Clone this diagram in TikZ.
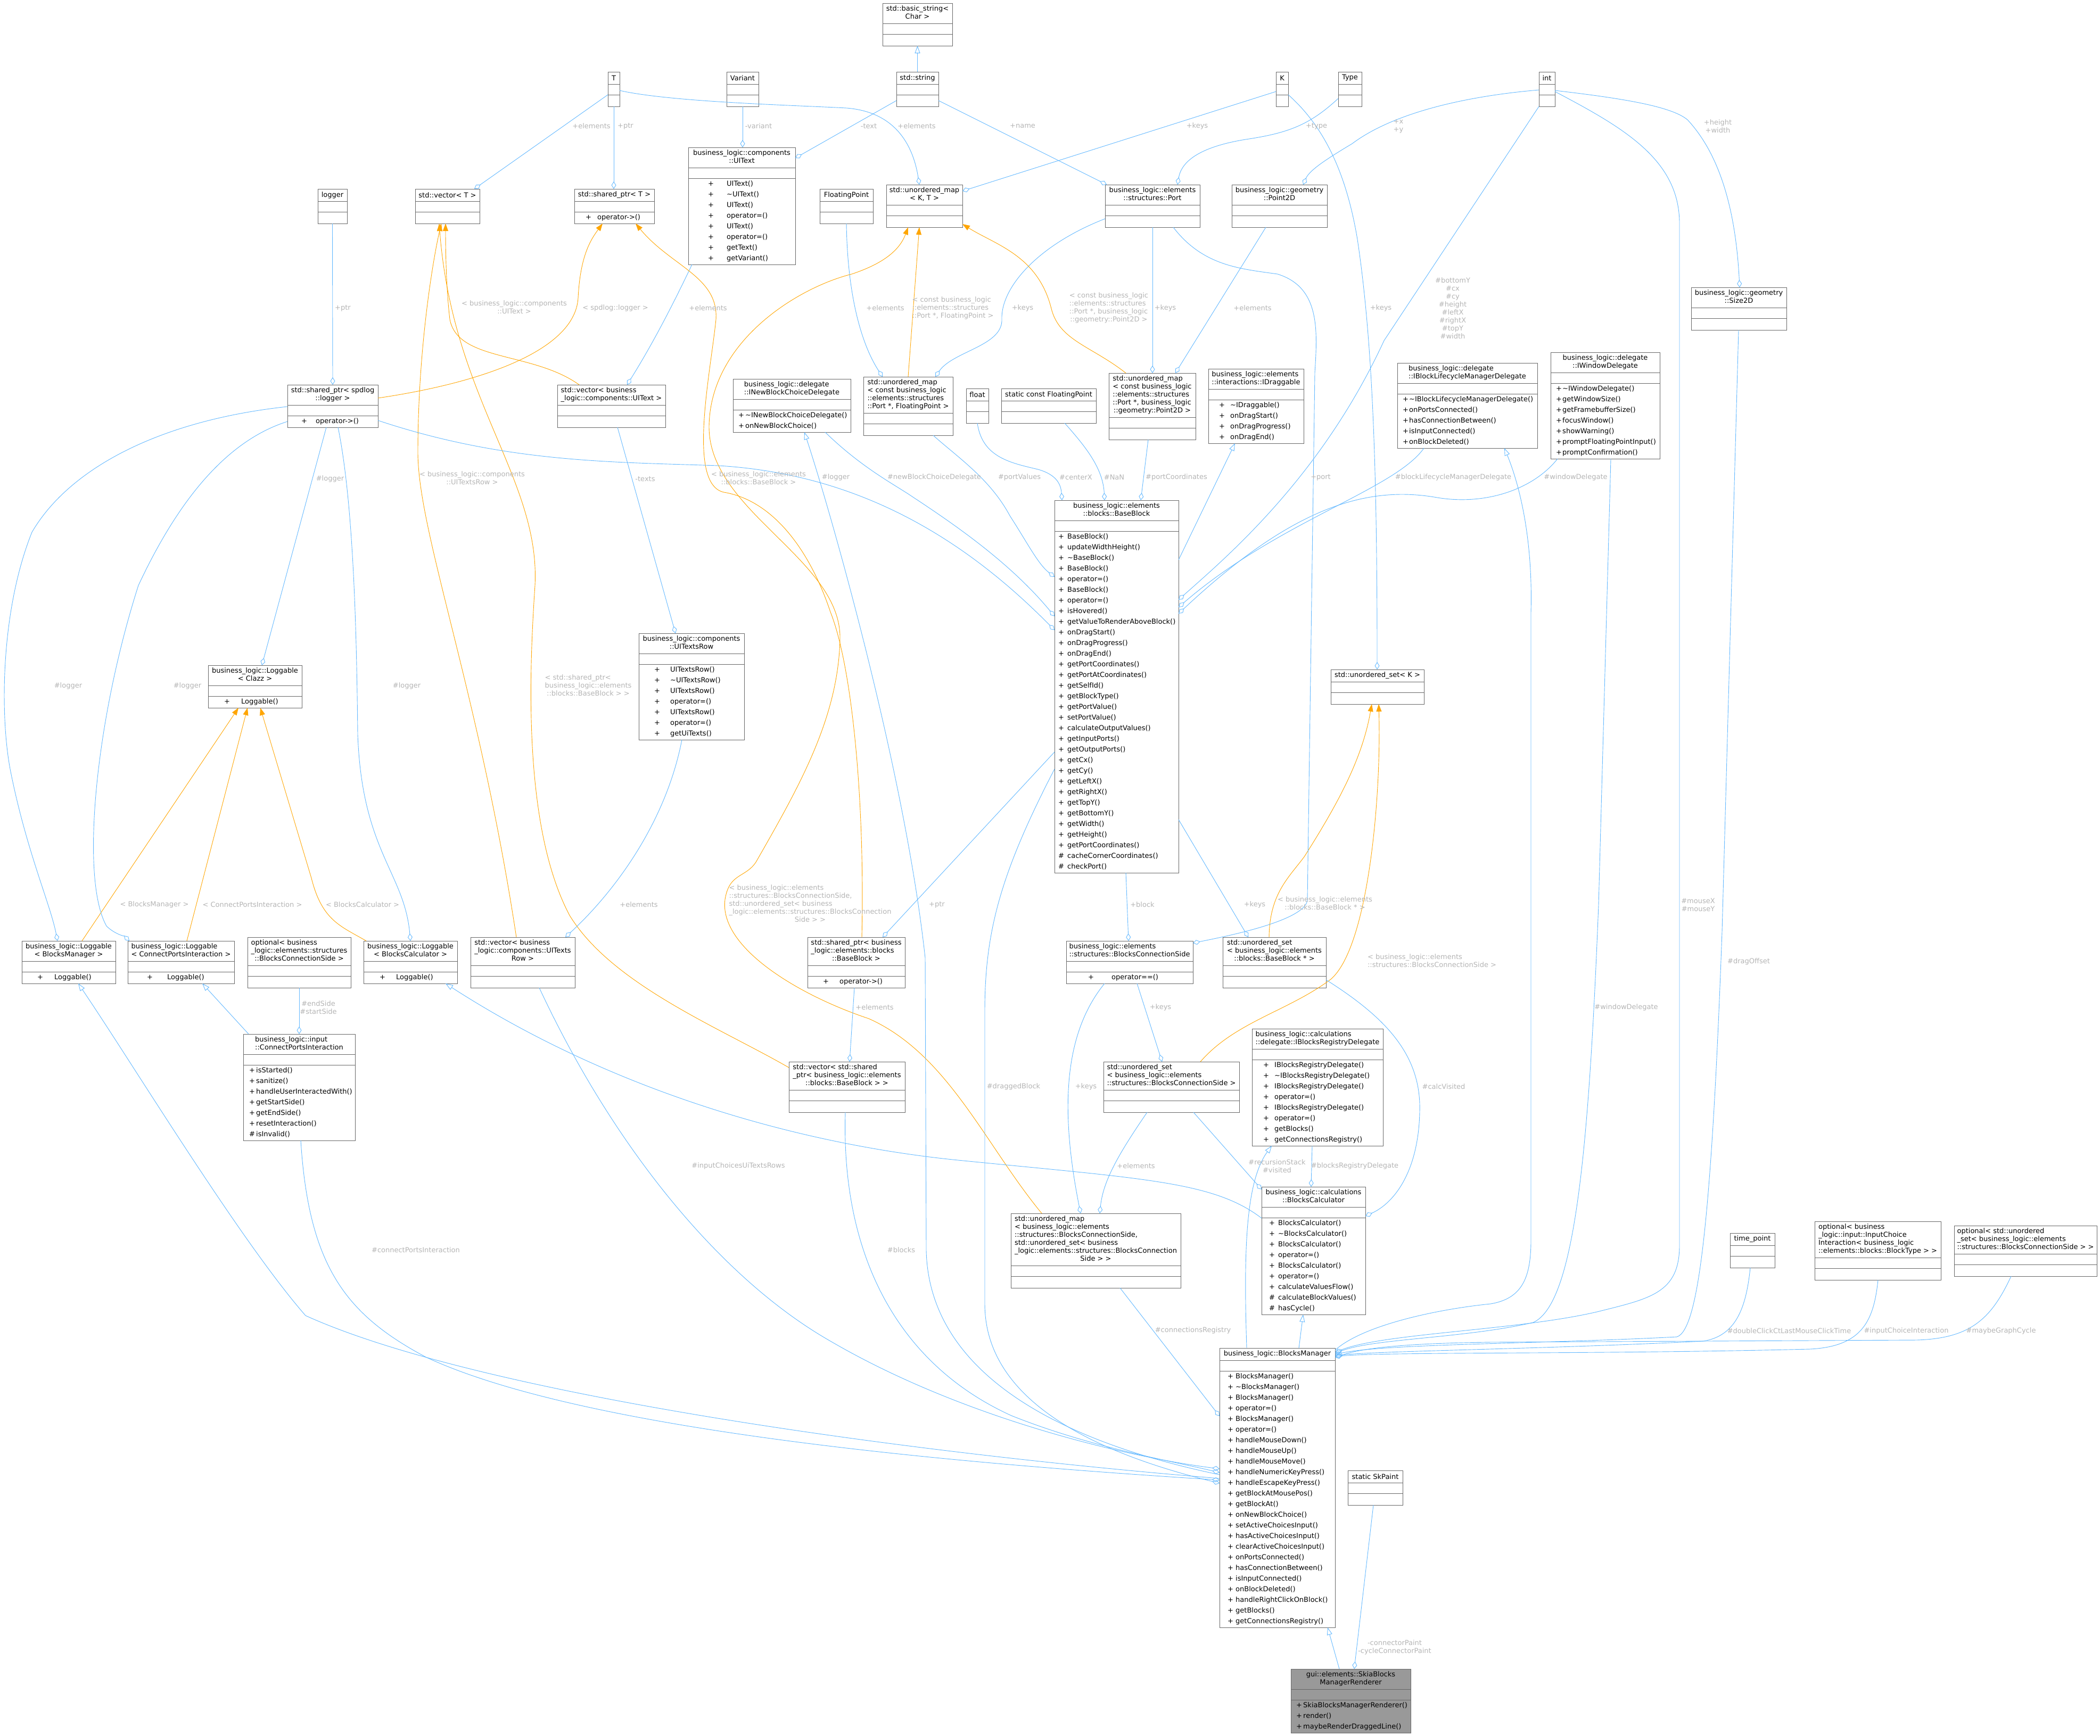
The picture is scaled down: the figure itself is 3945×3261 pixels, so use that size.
\documentclass[tikz,border=0pt]{standalone}
\usepackage{fontspec}
\setmainfont{DejaVu Sans}
\usepackage{tikz}
\usetikzlibrary{calc,arrows.meta}
\usepackage{xcolor}
\definecolor{edge_blue}{HTML}{63B8FF}
\definecolor{edge_orange}{HTML}{FFA500}
\definecolor{label_grey}{HTML}{B4B4B4}
\definecolor{box_grey}{HTML}{666666}
\definecolor{root_grey}{HTML}{999999}

\newcommand\headfont{\fontsize{13}{15}\selectfont}
\newcommand\hd[2]{\begin{tabular}{@{}l@{}}#1\\\multicolumn{1}{@{}c@{}}{#2}\end{tabular}}

\tikzset{
	cls/.style={draw=box_grey, line width=1pt, inner sep=0pt, outer sep=0pt, anchor=north west, fill=white},
	cellline/.style={draw=box_grey, line width=1pt},
	clshead/.style={inner sep=0pt, font=\headfont},
	clsrow/.style={inner sep=0pt, anchor=base west, font=\headfont},
	lbl/.style={text=label_grey, font=\headfont, align=center, inner sep=0pt},
	lblt/.style={text=label_grey, font=\headfont, inner sep=0pt},
	useedge/.style={draw=edge_blue, line width=0.9pt, -{Diamond[open, length=14pt, width=9pt]}},
	inhedge/.style={draw=edge_blue, line width=0.9pt, -{Triangle[open, length=14pt, width=10pt]}},
	tmpledge/.style={draw=edge_orange, line width=0.9pt, -{Triangle[length=14pt, width=10pt]}}
}

% name, x, y, width, header lines, header
\newcommand\emptybox[6]{%
	\pgfmathsetmacro\hh{15*#5+8}%
	\node[cls, minimum width=#4pt, minimum height={\hh pt+42pt}] (#1) at (#2,#3) {};
	\draw[cellline] (#2,#3+\hh) -- ++(#4,0) (#2,#3+\hh+20) -- ++(#4,0);
	\node[clshead] (#1h) at (#2+#4/2,#3+\hh/2) {#6};
}

% name, x, y, width, header lines, header, sign offset, name offset, rows
\newcommand\classbox[9]{%
	\pgfmathsetmacro\hh{15*#5+8}%
	\foreach \s/\m [count=\i] in {#9} {\xdef\nrows{\i}}%
	\pgfmathsetmacro\htot{\hh+22+20*\nrows}%
	\node[cls, minimum width=#4pt, minimum height=\htot pt] (#1) at (#2,#3) {};
	\draw[cellline] (#2,#3+\hh) -- ++(#4,0) (#2,#3+\hh+20) -- ++(#4,0);
	\node[clshead] (#1h) at (#2+#4/2,#3+\hh/2) {#6};
	\foreach \s/\m [count=\i] in {#9} {
		\node[clsrow] (#1s\i) at (#2+#7,#3+\hh+34.5+20*\i-20) {\s};
		\node[clsrow] (#1n\i) at (#2+#8,#3+\hh+34.5+20*\i-20) {\m};
	}%
}

\begin{document}
\begin{tikzpicture}[x=1pt,y=-1pt]
	\useasboundingbox (0,0) rectangle (3945,3261);

	\emptybox{T}{1142}{135}{22}{1}{T}
	\emptybox{logger}{597}{355}{55}{1}{logger}
	\emptybox{vecT}{780}{355}{121}{1}{std::vector< T >}
	\classbox{sptrT}{1079}{355}{150}{1}{std::shared\_ptr< T >}{21}{43}{+/operator->()}
	\emptybox{bstring}{1658}{6}{131}{2}{\hd{std::basic\_string<}{Char >}}
	\emptybox{variant}{1365}{135}{60}{1}{Variant}
	\emptybox{stdstring}{1684}{135}{79}{1}{std::string}
	\emptybox{K}{2397}{135}{23}{1}{K}
	\emptybox{Type}{2514}{135}{44}{1}{Type}
	\emptybox{int}{2891}{135}{30}{1}{int}
	\classbox{UIText}{1293}{277}{201}{2}{\hd{business\_logic::components}{::UIText}}{37}{72}{+/UIText(), +/\textasciitilde UIText(), +/UIText(), +/operator=(), +/UIText(), +/operator=(), +/getText(), +/getVariant()}
	\emptybox{mapKT}{1665}{347}{143}{2}{\hd{std::unordered\_map}{< K, T >}}
	\emptybox{Port}{2076}{347}{178}{2}{\hd{business\_logic::elements}{::structures::Port}}
	\emptybox{Point2D}{2314}{347}{179}{2}{\hd{business\_logic::geometry}{::Point2D}}
	\emptybox{FloatingPoint}{1540}{355}{100}{1}{FloatingPoint}
	\emptybox{Size2D}{3177}{540}{179}{2}{\hd{business\_logic::geometry}{::Size2D}}
	\classbox{sptrLog}{540}{723}{170}{2}{\hd{std::shared\_ptr< spdlog}{::logger >}}{26}{53}{+/operator->()}
	\emptybox{vecUIText}{1047}{723}{203}{2}{\hd{std::vector< business}{\_logic::components::UIText >}}
	\classbox{INewBCD}{1377}{712}{221}{2}{\hd{business\_logic::delegate}{::INewBlockChoiceDelegate}}{10}{23}{+/\textasciitilde INewBlockChoiceDelegate(), +/onNewBlockChoice()}
	\emptybox{mapFP}{1622}{708}{168}{4}{\hd{std::unordered\_map\\< const business\_logic\\::elements::structures}{::Port *, FloatingPoint >}}
	\emptybox{float}{1815}{730}{42}{1}{float}
	\emptybox{scFP}{1881}{730}{178}{1}{static const FloatingPoint}
	\emptybox{mapP2D}{2083}{701}{163}{5}{\hd{std::unordered\_map\\< const business\_logic\\::elements::structures\\::Port *, business\_logic}{::geometry::Point2D >}}
	\classbox{IDraggable}{2270}{693}{179}{2}{\hd{business\_logic::elements}{::interactions::IDraggable}}{20}{41}{+/\textasciitilde IDraggable(), +/onDragStart(), +/onDragProgress(), +/onDragEnd()}
	\classbox{IBLMD}{2625}{682}{263}{2}{\hd{business\_logic::delegate}{::IBlockLifecycleManagerDelegate}}{10}{22}{+/\textasciitilde IBlockLifecycleManagerDelegate(), +/onPortsConnected(), +/hasConnectionBetween(), +/isInputConnected(), +/onBlockDeleted()}
	\classbox{IWD}{2913}{662}{205}{2}{\hd{business\_logic::delegate}{::IWindowDelegate}}{10}{22}{+/\textasciitilde IWindowDelegate(), +/getWindowSize(), +/getFramebufferSize(), +/focusWindow(), +/showWarning(), +/promptFloatingPointInput(), +/promptConfirmation()}
	\classbox{BaseBlock}{1981}{940}{233}{2}{\hd{business\_logic::elements}{::blocks::BaseBlock}}{7}{24}{+/BaseBlock(), +/updateWidthHeight(), +/\textasciitilde BaseBlock(), +/BaseBlock(), +/operator=(), +/BaseBlock(), +/operator=(), +/isHovered(), +/getValueToRenderAboveBlock(), +/onDragStart(), +/onDragProgress(), +/onDragEnd(), +/getPortCoordinates(), +/getPortAtCoordinates(), +/getSelfId(), +/getBlockType(), +/getPortValue(), +/setPortValue(), +/calculateOutputValues(), +/getInputPorts(), +/getOutputPorts(), +/getCx(), +/getCy(), +/getLeftX(), +/getRightX(), +/getTopY(), +/getBottomY(), +/getWidth(), +/getHeight(), +/getPortCoordinates(), \#/cacheCornerCoordinates(), \#/checkPort()}
	\classbox{LogClazz}{391}{1250}{176}{2}{\hd{business\_logic::Loggable}{< Clazz >}}{30}{62}{+/Loggable()}
	\emptybox{usetK}{2500}{1258}{175}{1}{std::unordered\_set< K >}
	\classbox{UITextsRow}{1200}{1190}{198}{2}{\hd{business\_logic::components}{::UITextsRow}}{29}{59}{+/UITextsRow(), +/\textasciitilde UITextsRow(), +/UITextsRow(), +/operator=(), +/UITextsRow(), +/operator=(), +/getUiTexts()}
	\classbox{LogBM}{41}{1768}{176}{2}{\hd{business\_logic::Loggable}{< BlocksManager >}}{29}{61}{+/Loggable()}
	\classbox{LogCPI}{240}{1768}{200}{2}{\hd{business\_logic::Loggable}{< ConnectPortsInteraction >}}{36}{74}{+/Loggable()}
	\emptybox{optBCS}{465}{1761}{194}{3}{\hd{optional< business\\\_logic::elements::structures}{::BlocksConnectionSide >}}
	\classbox{LogBC}{683}{1768}{176}{2}{\hd{business\_logic::Loggable}{< BlocksCalculator >}}{30}{61}{+/Loggable()}
	\emptybox{vecRow}{884}{1761}{196}{3}{\hd{std::vector< business\\\_logic::components::UITexts}{Row >}}
	\classbox{CPI}{457}{1943}{210}{2}{\hd{business\_logic::input}{::ConnectPortsInteraction}}{11}{24}{+/isStarted(), +/sanitize(), +/handleUserInteractedWith(), +/getStartSide(), +/getEndSide(), +/resetInteraction(), \#/isInvalid()}
	\classbox{sptrBB}{1517}{1761}{183}{3}{\hd{std::shared\_ptr< business\\\_logic::elements::blocks}{::BaseBlock >}}{29}{60}{+/operator->()}
	\classbox{BCS}{2003}{1768}{238}{2}{\hd{business\_logic::elements}{::structures::BlocksConnectionSide}}{41}{85}{+/operator==()}
	\emptybox{usetBB}{2297}{1761}{194}{3}{\hd{std::unordered\_set\\< business\_logic::elements}{::blocks::BaseBlock * >}}
	\emptybox{vecSBB}{1482}{1995}{218}{3}{\hd{std::vector< std::shared\\\_ptr< business\_logic::elements}{::blocks::BaseBlock > >}}
	\emptybox{usetBCS}{2073}{1995}{255}{3}{\hd{std::unordered\_set\\< business\_logic::elements}{::structures::BlocksConnectionSide >}}
	\classbox{IBRD}{2352}{1933}{246}{2}{\hd{business\_logic::calculations}{::delegate::IBlocksRegistryDelegate}}{21}{42}{+/IBlocksRegistryDelegate(), +/\textasciitilde IBlocksRegistryDelegate(), +/IBlocksRegistryDelegate(), +/operator=(), +/IBlocksRegistryDelegate(), +/operator=(), +/getBlocks(), +/getConnectionsRegistry()}
	\emptybox{mapBCS}{1899}{2280}{319}{6}{\hd{std::unordered\_map\\< business\_logic::elements\\::structures::BlocksConnectionSide,\\ std::unordered\_set< business\\\_logic::elements::structures::BlocksConnection}{Side > >}}
	\classbox{BC}{2370}{2230}{195}{2}{\hd{business\_logic::calculations}{::BlocksCalculator}}{14}{31}{+/BlocksCalculator(), +/\textasciitilde BlocksCalculator(), +/BlocksCalculator(), +/operator=(), +/BlocksCalculator(), +/operator=(), +/calculateValuesFlow(), \#/calculateBlockValues(), \#/hasCycle()}
	\emptybox{timept}{3250}{2317}{84}{1}{time\_point}
	\emptybox{optICI}{3409}{2295}{237}{4}{\hd{optional< business\\\_logic::input::InputChoice\\Interaction< business\_logic}{::elements::blocks::BlockType > >}}
	\emptybox{optSet}{3671}{2303}{268}{3}{\hd{optional< std::unordered\\\_set< business\_logic::elements}{::structures::BlocksConnectionSide > >}}
	\classbox{BM}{2291}{2533}{217}{1}{business\_logic::BlocksManager}{15}{30}{+/BlocksManager(), +/\textasciitilde BlocksManager(), +/BlocksManager(), +/operator=(), +/BlocksManager(), +/operator=(), +/handleMouseDown(), +/handleMouseUp(), +/handleMouseMove(), +/handleNumericKeyPress(), +/handleEscapeKeyPress(), +/getBlockAtMousePos(), +/getBlockAt(), +/onNewBlockChoice(), +/setActiveChoicesInput(), +/hasActiveChoicesInput(), +/clearActiveChoicesInput(), +/onPortsConnected(), +/hasConnectionBetween(), +/isInputConnected(), +/onBlockDeleted(), +/handleRightClickOnBlock(), +/getBlocks(), +/getConnectionsRegistry()}
	\emptybox{SkPaint}{2532}{2763}{103}{1}{static SkPaint}
	\begin{scope}[cls/.append style={fill=root_grey}]
		\classbox{Skia}{2425}{3136}{225}{2}{\hd{gui::elements::SkiaBlocks}{ManagerRenderer}}{10}{23}{+/SkiaBlocksManagerRenderer(), +/render(), +/maybeRenderDraggedLine()}
	\end{scope}

	% top row
	\draw[useedge] ($(T.north west)+(0,43)$) -- ($(vecT.north west)+(111,0)$);
	\draw[useedge] (T.south) -- ($(sptrT.north west)+(74,0)$);
	\draw[useedge] ($(T.north east)+(0,35)$) .. controls (1260,192) and (1500,198) .. (1590,203) .. controls (1680,210) and (1715,270) .. ($(mapKT.north west)+(62,0)$);
	\draw[inhedge] (stdstring.north) -- (bstring.south);
	\draw[useedge] (variant.south) -- ($(UIText.north west)+(102,0)$);
	\draw[useedge] ($(stdstring.north west)+(0,54)$) -- ($(UIText.north east)+(0,20)$);
	\draw[useedge] ($(stdstring.north east)+(0,54)$) -- ($(Port.north west)+(3,0)$);
	\draw[useedge] ($(K.north west)+(0,37)$) -- ($(mapKT.north east)+(0,12)$);
	\draw[useedge] ($(Type.north west)+(0,50)$) .. controls (2460,235) and (2420,250) .. (2340,262) .. controls (2260,275) and (2220,300) .. ($(Port.north west)+(136,0)$);
	\draw[useedge] ($(int.north west)+(0,34)$) .. controls (2760,180) and (2620,210) .. (2540,270) .. controls (2490,300) and (2460,320) .. ($(Point2D.north west)+(134,0)$);
	\draw[useedge] ($(int.north east)+(0,35)$) .. controls (3050,185) and (3140,200) .. (3170,225) .. controls (3240,300) and (3262,420) .. ($(Size2D.north west)+(91,0)$);
	\draw[useedge] ($(K.north east)+(0,43)$) .. controls (2490,240) and (2530,330) .. (2550,450) .. controls (2580,650) and (2587,900) .. ($(usetK.north west)+(87,0)$);
	\draw[useedge] (logger.south) -- ($(sptrLog.north west)+(85,0)$);
	\draw[useedge] ($(UIText.south west)+(7,0)$) .. controls (1270,560) and (1230,640) .. ($(vecUIText.north west)+(131,0)$);
	\draw[useedge] (FloatingPoint.south) .. controls (1592,560) and (1620,650) .. ($(mapFP.north west)+(36,0)$);
	\draw[useedge] ($(Port.north west)+(0,64)$) .. controls (1950,460) and (1880,540) .. (1882,600) .. controls (1884,650) and (1790,660) .. ($(mapFP.north west)+(135,0)$);
	\draw[useedge] (Port.south) -- ($(mapP2D.north west)+(82,0)$);
	\draw[useedge] ($(Point2D.south west)+(64,0)$) -- ($(mapP2D.north west)+(125,0)$);

	% templates
	\draw[tmpledge] ($(mapFP.north west)+(84,0)$) -- ($(mapKT.south west)+(62,0)$);
	\draw[tmpledge] ($(mapP2D.north west)+(32,0)$) .. controls (2050,650) and (1990,640) .. (1975,580) .. controls (1950,480) and (1870,460) .. ($(mapKT.south east)+(0,-6)$);
	\draw[tmpledge] ($(mapBCS.north west)+(58,0)$) .. controls (1850,2150) and (1780,1980) .. (1632,1914) .. controls (1500,1870) and (1350,1780) .. (1362,1690) .. controls (1370,1640) and (1400,1650) .. (1420,1620) .. controls (1500,1480) and (1575,1350) .. (1578,1200) .. controls (1580,1050) and (1330,960) .. (1332,800) .. controls (1335,640) and (1500,540) .. (1600,515) .. controls (1660,495) and (1690,470) .. ($(mapKT.south west)+(41,0)$);
	\draw[tmpledge] ($(sptrBB.north west)+(102,0)$) .. controls (1625,1500) and (1600,1250) .. (1560,1150) .. controls (1520,1030) and (1450,940) .. (1360,925) .. controls (1290,910) and (1335,700) .. (1345,600) .. controls (1350,520) and (1260,500) .. ($(sptrT.south west)+(115,0)$);
	\draw[tmpledge] ($(vecRow.north west)+(86,0)$) .. controls (900,1300) and (785,1000) .. (785,850) .. controls (785,650) and (815,480) .. ($(vecT.south west)+(49,0)$);
	\draw[tmpledge] ($(vecSBB.north west)+(0,11)$) .. controls (1350,1930) and (1150,1850) .. (1070,1720) .. controls (980,1550) and (995,1250) .. (1005,1100) .. controls (1015,900) and (850,750) .. ($(vecT.south west)+(45,0)$);
	\draw[tmpledge] ($(vecUIText.north west)+(41,0)$) .. controls (1000,660) and (860,680) .. (845,600) .. controls (838,540) and (837,470) .. ($(vecT.south west)+(57,0)$);
	\draw[tmpledge] ($(sptrLog.north east)+(0,25)$) .. controls (900,720) and (1080,660) .. (1086,560) .. controls (1090,480) and (1110,450) .. ($(sptrT.south west)+(53,0)$);
	\draw[tmpledge] ($(LogBM.north west)+(113,0)$) -- ($(LogClazz.south west)+(57,0)$);
	\draw[tmpledge] ($(LogCPI.north west)+(111,0)$) -- ($(LogClazz.south west)+(74,0)$);
	\draw[tmpledge] ($(LogBC.north west)+(5,0)$) .. controls (640,1740) and (605,1730) .. (585,1650) -- ($(LogClazz.south west)+(98,0)$);
	\draw[tmpledge] ($(usetBB.north west)+(87,0)$) .. controls (2385,1680) and (2420,1650) .. (2450,1610) .. controls (2520,1500) and (2560,1420) .. ($(usetK.south west)+(77,0)$);
	\draw[tmpledge] ($(usetBCS.north west)+(182,0)$) .. controls (2320,1920) and (2420,1900) .. (2500,1840) .. controls (2570,1780) and (2595,1500) .. ($(usetK.south west)+(90,0)$);

	% around BaseBlock
	\draw[useedge] (int.south west) -- (2600,640) .. controls (2480,900) and (2300,1050) .. ($(BaseBlock.north east)+(0,187)$);
	\draw[useedge] ($(IBLMD.south west)+(50,0)$) .. controls (2620,920) and (2400,980) .. ($(BaseBlock.north east)+(0,201)$);
	\draw[useedge] ($(IWD.south west)+(13,0)$) .. controls (2880,920) and (2790,950) .. (2700,935) .. controls (2560,910) and (2420,960) .. ($(BaseBlock.north east)+(0,213)$);
	\draw[inhedge] ($(BaseBlock.north east)+(0,112)$) -- ($(IDraggable.south west)+(50,0)$);
	\draw[useedge] (float.south) .. controls (1845,860) and (1900,870) .. (1950,882) .. controls (1985,892) and (1993,910) .. ($(BaseBlock.north west)+(14,0)$);
	\draw[useedge] ($(scFP.south west)+(119,0)$) .. controls (2040,840) and (2072,880) .. ($(BaseBlock.north west)+(94,0)$);
	\draw[useedge] ($(mapP2D.south west)+(74,0)$) -- ($(BaseBlock.north west)+(162,0)$);
	\draw[useedge] ($(mapFP.south west)+(131,0)$) .. controls (1800,860) and (1860,900) .. (1897,969) .. controls (1930,1020) and (1950,1060) .. ($(BaseBlock.north west)+(0,144)$);
	\draw[useedge] ($(INewBCD.south west)+(173,0)$) .. controls (1620,880) and (1680,910) .. (1715,934) .. controls (1800,990) and (1900,1060) .. ($(BaseBlock.north west)+(0,218)$);
	\draw[useedge] ($(sptrLog.north east)+(0,67)$) .. controls (950,870) and (1150,868) .. (1350,875) .. controls (1600,890) and (1800,1000) .. ($(BaseBlock.north west)+(0,244)$);
	\draw[useedge] ($(BaseBlock.north west)+(0,473)$) -- ($(sptrBB.north west)+(141,0)$);
	\draw[useedge] ($(sptrBB.south west)+(88,0)$) -- ($(vecSBB.north west)+(114,0)$);
	\draw[useedge] ($(BaseBlock.south west)+(134,0)$) -- ($(BCS.north west)+(117,0)$);
	\draw[useedge] ($(BaseBlock.north east)+(0,600)$) -- ($(usetBB.north west)+(48,0)$);
	\draw[useedge] ($(Port.south west)+(128,0)$) .. controls (2260,500) and (2330,505) .. (2400,515) .. controls (2480,540) and (2475,620) .. (2470,700) -- (2456,1690) .. controls (2455,1730) and (2300,1760) .. ($(BCS.north east)+(0,4)$);

	% logger
	\draw[useedge] ($(sptrLog.south west)+(73,0)$) -- ($(LogClazz.north west)+(101,0)$);
	\draw[useedge] ($(sptrLog.north west)+(0,41)$) .. controls (300,790) and (130,880) .. (60,1000) .. controls (0,1150) and (0,1350) .. (20,1450) .. controls (50,1600) and (95,1700) .. ($(LogBM.north west)+(67,0)$);
	\draw[useedge] ($(sptrLog.north west)+(0,69)$) .. controls (420,830) and (330,950) .. (260,1100) .. controls (180,1350) and (150,1650) .. (200,1740) .. controls (215,1755) and (235,1760) .. ($(LogCPI.north west)+(3,0)$);
	\draw[useedge] ($(sptrLog.south west)+(95,0)$) .. controls (665,950) and (670,1200) .. (672,1380) .. controls (680,1600) and (760,1640) .. ($(LogBC.north west)+(88,0)$);
	\draw[useedge] ($(vecUIText.south west)+(113,0)$) -- ($(UITextsRow.north west)+(69,0)$);
	\draw[useedge] ($(UITextsRow.south west)+(81,0)$) .. controls (1250,1550) and (1150,1680) .. ($(vecRow.north west)+(178,0)$);
	\draw[useedge] ($(optBCS.south west)+(97,0)$) -- ($(CPI.north west)+(105,0)$);
	\draw[inhedge] ($(CPI.north west)+(10,0)$) -- ($(LogCPI.south west)+(140,0)$);

	% calculator and connections
	\draw[useedge] ($(BCS.south west)+(133,0)$) -- ($(usetBCS.north west)+(110,0)$);
	\draw[useedge] ($(BCS.south west)+(72,0)$) .. controls (2000,1940) and (1990,2080) .. ($(mapBCS.north west)+(131,0)$);
	\draw[useedge] ($(usetBCS.south west)+(82,0)$) .. controls (2100,2170) and (2072,2220) .. ($(mapBCS.north west)+(167,0)$);
	\draw[useedge] ($(usetBCS.south west)+(169,0)$) -- ($(BC.north west)+(0,5)$);
	\draw[useedge] ($(usetBB.north east)+(0,80)$) .. controls (2600,1910) and (2670,1980) .. (2667,2088) .. controls (2665,2200) and (2620,2260) .. ($(BC.north east)+(0,55)$);
	\draw[useedge] ($(IBRD.south west)+(113,0)$) -- ($(BC.north west)+(93,0)$);
	\draw[inhedge] ($(BC.north west)+(0,59)$) .. controls (2280,2220) and (2150,2215) .. (1800,2180) .. controls (1500,2150) and (1150,2050) .. ($(LogBC.south west)+(154,0)$);

	% into BlocksManager
	\draw[useedge] ($(mapBCS.south west)+(205,0)$) -- ($(BM.north west)+(0,128)$);
	\draw[inhedge] ($(BM.north west)+(149,0)$) -- ($(BC.south west)+(78,0)$);
	\draw[inhedge] ($(BM.north west)+(51,0)$) .. controls (2336,2350) and (2340,2220) .. ($(IBRD.south west)+(37,0)$);
	\draw[inhedge] ($(BM.north west)+(0,238)$) .. controls (1950,2700) and (1745,2560) .. (1740,2350) -- (1738,1800) .. controls (1700,1450) and (1560,960) .. ($(INewBCD.south west)+(134,0)$);
	\draw[inhedge] ($(BM.north west)+(0,245)$) .. controls (1700,2730) and (900,2620) .. (574,2472) .. controls (450,2330) and (250,2000) .. ($(LogBM.south west)+(106,0)$);
	\draw[useedge] ($(CPI.south west)+(108,0)$) .. controls (580,2380) and (650,2470) .. (800,2550) .. controls (1100,2690) and (1800,2750) .. ($(BM.north west)+(0,248)$);
	\draw[useedge] ($(vecRow.south west)+(129,0)$) .. controls (1150,2150) and (1350,2400) .. (1560,2520) .. controls (1800,2660) and (2100,2735) .. ($(BM.north west)+(0,227)$);
	\draw[useedge] ($(vecSBB.south west)+(106,0)$) .. controls (1580,2350) and (1680,2560) .. (1900,2660) .. controls (2050,2720) and (2200,2745) .. ($(BM.north west)+(0,234)$);
	\draw[useedge] ($(BaseBlock.north west)+(0,505)$) .. controls (1880,1640) and (1850,1750) .. (1850,1900) -- (1850,2450) .. controls (1850,2650) and (2100,2740) .. ($(BM.north west)+(0,254)$);
	\draw[useedge] ($(int.north east)+(0,37)$) .. controls (3050,240) and (3155,300) .. (3155,420) -- (3155,2340) .. controls (3155,2430) and (3100,2440) .. (3000,2465) .. controls (2850,2500) and (2600,2505) .. ($(BM.north east)+(0,8)$);
	\draw[useedge] ($(Size2D.south west)+(89,0)$) -- (3235,1750) .. controls (3215,2300) and (3190,2500) .. (3150,2512) .. controls (2900,2525) and (2600,2525) .. ($(BM.north east)+(0,12)$);
	\draw[useedge] ($(IWD.south west)+(113,0)$) -- (3003,1700) .. controls (2985,2150) and (2960,2450) .. (2880,2485) .. controls (2750,2515) and (2580,2515) .. ($(BM.north east)+(0,10)$);
	\draw[inhedge] ($(BM.north east)+(0,4)$) .. controls (2560,2490) and (2700,2460) .. (2800,2450) .. controls (2860,2440) and (2876,2400) .. (2876,2330) -- (2876,1150) .. controls (2880,1000) and (2850,900) .. ($(IBLMD.south west)+(201,0)$);
	\draw[useedge] ($(timept.south west)+(38,0)$) .. controls (3280,2460) and (3260,2510) .. (3200,2520) .. controls (2900,2535) and (2600,2538) .. ($(BM.north east)+(0,14)$);
	\draw[useedge] ($(optICI.south west)+(119,0)$) .. controls (3520,2480) and (3500,2530) .. (3400,2535) .. controls (3000,2545) and (2600,2540) .. ($(BM.north east)+(0,16)$);
	\draw[useedge] ($(optSet.south west)+(107,0)$) .. controls (3740,2480) and (3700,2515) .. (3600,2518) -- (2800,2522) .. controls (2650,2524) and (2560,2532) .. ($(BM.north east)+(0,18)$);
	\draw[inhedge] ($(Skia.north west)+(91,0)$) -- ($(BM.south west)+(203,0)$);
	\draw[useedge] ($(SkPaint.south west)+(48,0)$) -- ($(Skia.north west)+(119,0)$);

	% edge labels
	\node[lbl] (lab1) at (1111,237) {+elements};
	\node[lbl] (lab2) at (1175,237) {+ptr};
	\node[lbl] (lab3) at (1722,237) {+elements};
	\node[lbl] (lab4) at (1425,237) {-variant};
	\node[lbl] (lab5) at (1632,237) {-text};
	\node[lbl] (lab6) at (1921,237) {+name};
	\node[lbl] (lab7) at (2249,237) {+keys};
	\node[lbl] (lab8) at (2473,237) {+type};
	\node[lbl] (lab9) at (2627,237) {+x\\+y};
	\node[lbl] (lab10) at (3227,237) {+height\\+width};
	\node[lbl] (lab11) at (2729,579) {\#bottomY\\\#cx\\\#cy\\\#height\\\#leftX\\\#rightX\\\#topY\\\#width};
	\node[lbl] (lab12) at (2730,897) {\#blockLifecycleManagerDelegate};
	\node[lbl] (lab13) at (2960,897) {\#windowDelegate};
	\node[lbl] (lab14) at (2021,897) {\#centerX};
	\node[lbl] (lab15) at (2093,897) {\#NaN};
	\node[lbl] (lab16) at (2210,897) {\#portCoordinates};
	\node[lbl] (lab17) at (1915,897) {\#portValues};
	\node[lbl] (lab18) at (1755,897) {\#newBlockChoiceDelegate};
	\node[lbl] (lab19) at (1570,897) {\#logger};
	\node[lblt] (lab20) at (1425,900) {\hd{< business\_logic::elements}{::blocks::BaseBlock >}};
	\node[lbl] (lab21) at (1663,579) {+elements};
	\node[lblt] (lab22) at (1790,579) {\hd{< const business\_logic\\::elements::structures}{::Port *, FloatingPoint >}};
	\node[lbl] (lab23) at (1921,579) {+keys};
	\node[lblt] (lab24) at (2083,579) {\hd{< const business\_logic\\::elements::structures\\::Port *, business\_logic}{::geometry::Point2D >}};
	\node[lbl] (lab25) at (2189,579) {+keys};
	\node[lbl] (lab26) at (2353,579) {+elements};
	\node[lbl] (lab27) at (2594,579) {+keys};
	\node[lbl] (lab28) at (2481,897) {+port};
	\node[lbl] (lab29) at (644,579) {+ptr};
	\node[lbl] (lab30) at (1156,579) {< spdlog::logger >};
	\node[lblt] (lab31) at (966,579) {\hd{< business\_logic::components}{::UIText >}};
	\node[lbl] (lab32) at (1330,579) {+elements};
	\node[lbl] (lab33) at (620,900) {\#logger};
	\node[lblt] (lab34) at (887,900) {\hd{< business\_logic::components}{::UITextsRow >}};
	\node[lbl] (lab35) at (1212,900) {-texts};
	\node[lbl] (lab36) at (128,1289) {\#logger};
	\node[lbl] (lab37) at (352,1289) {\#logger};
	\node[lbl] (lab38) at (764,1289) {\#logger};
	\node[lblt] (lab39) at (1105,1289) {\hd{< std::shared\_ptr<\\business\_logic::elements}{::blocks::BaseBlock > >}};
	\node[lbl] (lab40) at (290,1700) {< BlocksManager >};
	\node[lbl] (lab41) at (474,1700) {< ConnectPortsInteraction >};
	\node[lbl] (lab42) at (681,1700) {< BlocksCalculator >};
	\node[lbl] (lab43) at (1200,1700) {+elements};
	\node[lblt] (lab44) at (1522,1699) {\hd{< business\_logic::elements\\::structures::BlocksConnectionSide,\\ std::unordered\_set< business\\\_logic::elements::structures::BlocksConnection}{Side > >}};
	\node[lbl] (lab45) at (1760,1700) {+ptr};
	\node[lbl] (lab46) at (2146,1700) {+block};
	\node[lbl] (lab47) at (2357,1700) {+keys};
	\node[lblt] (lab48) at (2489,1699) {\hd{< business\_logic::elements}{::blocks::BaseBlock * >}};
	\node[lblt] (lab49) at (2690,1807) {\hd{< business\_logic::elements}{::structures::BlocksConnectionSide >}};
	\node[lbl] (lab50) at (3190,1700) {\#mouseX\\\#mouseY};
	\node[lbl] (lab51) at (3285,1807) {\#dragOffset};
	\node[lbl] (lab52) at (3055,1893) {\#windowDelegate};
	\node[lbl] (lab53) at (598,1893) {\#endSide\\\#startSide};
	\node[lbl] (lab54) at (1643,1893) {+elements};
	\node[lbl] (lab55) at (2180,1893) {+keys};
	\node[lbl] (lab56) at (1904,2042) {\#draggedBlock};
	\node[lbl] (lab57) at (2040,2042) {+keys};
	\node[lbl] (lab58) at (2712,2042) {\#calcVisited};
	\node[lbl] (lab59) at (1387,2191) {\#inputChoicesUiTextsRows};
	\node[lbl] (lab60) at (2134,2191) {+elements};
	\node[lbl] (lab61) at (2399,2191) {\#recursionStack\\\#visited};
	\node[lbl] (lab62) at (2545,2191) {\#blocksRegistryDelegate};
	\node[lbl] (lab63) at (781,2349) {\#connectPortsInteraction};
	\node[lbl] (lab64) at (1693,2349) {\#blocks};
	\node[lbl] (lab65) at (2241,2500) {\#connectionsRegistry};
	\node[lbl] (lab66) at (3361,2501) {\#doubleClickCtLastMouseClickTime};
	\node[lbl] (lab67) at (3581,2501) {\#inputChoiceInteraction};
	\node[lbl] (lab68) at (3759,2501) {\#maybeGraphCycle};
	\node[lbl] (lab69) at (2620,3095) {-connectorPaint\\-cycleConnectorPaint};
\end{tikzpicture}
\end{document}
